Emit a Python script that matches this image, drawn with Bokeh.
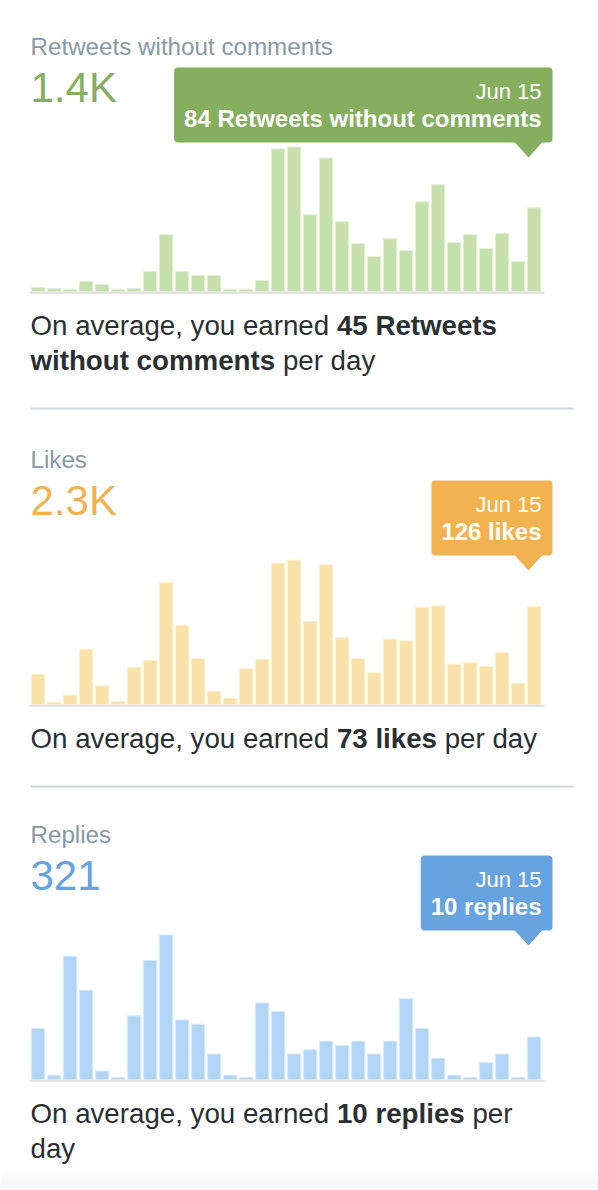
import numpy as np
from bokeh.plotting import figure
from bokeh.models import Range1d
from bokeh.core.properties import value
from bokeh.embed import file_html
from bokeh.resources import INLINE

# ---------------- data ----------------
dates = [f"May {d}" for d in range(15, 32)] + [f"Jun {d}" for d in range(1, 16)]
retweets = [4, 3, 2, 10, 7, 2, 3, 20, 57, 20, 16, 16, 2, 2, 11, 143, 145, 77, 134, 70,
            48, 35, 53, 41, 90, 107, 49, 57, 43, 58, 30, 84]
likes = [39, 3, 12, 71, 24, 4, 48, 57, 157, 102, 59, 17, 8, 46, 58, 182, 186, 107, 180, 86,
         59, 41, 84, 82, 125, 127, 52, 54, 49, 67, 27, 126]
replies = [12, 1, 29, 21, 2, 0, 15, 28, 34, 14, 13, 6, 1, 0, 18, 16, 6, 7, 9, 8,
           9, 6, 9, 19, 12, 5, 1, 0, 4, 6, 0, 10]

metric_titles = ["Retweets without comments", "Likes", "Replies"]
metric_totals = ["1.4K", "2.3K", "321"]
tooltip_dates = ["Jun 15", "Jun 15", "Jun 15"]
tooltip_values = ["84 Retweets without comments", "126 likes", "10 replies"]
summary_lines = [
    [[("On average, you earned ", False), ("45 Retweets", True)],
     [("without comments", True), (" per day", False)]],
    [[("On average, you earned ", False), ("73 likes", True), (" per day", False)]],
    [[("On average, you earned ", False), ("10 replies", True), (" per", False)],
     [("day", False)]],
]
series = [retweets, likes, replies]

# ---------------- styling ----------------
accent = ["#85ae5f", "#f2b250", "#66a3e0"]
bar_fill = ["#c5dfad", "#f9e2a9", "#b2d5f5"]
bar_edge = ["#e2efd6", "#fcf0d3", "#d8eafa"]
FONT = "Liberation Sans"
GRAY = "#8899a6"
DARK = "#292f33"

# Arial / Liberation Sans advance widths (per 1000 em)
REG = {' ': 278, ',': 278, '.': 278, 'a': 556, 'b': 556, 'c': 500, 'd': 556, 'e': 556,
       'f': 278, 'g': 556, 'h': 556, 'i': 222, 'k': 500, 'l': 222, 'm': 833, 'n': 556,
       'o': 556, 'p': 556, 'r': 333, 's': 500, 't': 278, 'u': 556, 'v': 500, 'w': 722,
       'y': 500, 'O': 778, 'R': 722, 'J': 500, 'K': 667, 'L': 556}
BOLD = {' ': 278, 'a': 556, 'c': 556, 'd': 611, 'e': 556, 'h': 611, 'i': 278, 'k': 556,
        'l': 278, 'm': 889, 'n': 611, 'o': 611, 'p': 611, 'r': 389, 's': 556, 't': 333,
        'u': 611, 'w': 778, 'y': 556, 'R': 722}


def text_width(s, bold, size):
    table = BOLD if bold else REG
    return sum(table.get(ch, 556) for ch in s) * size / 1000.0


# ---------------- layout (page pixel coordinates) ----------------
W, H = 598, 1190
M0 = 0
LEFT = 30
heading_y = [55, 468, 843]
X0 = 37.65      # centre of first bar
PITCH = 16.0    # bar pitch in px
HPX = 144.5     # height of tallest bar in px
BAR_OFF = 236   # bar baseline below heading baseline
SZ_HEAD, SZ_NUM, SZ_SUM, SZ_DATE, SZ_TIP = 24.2, 42, 27.7, 22, 24
BASE_SHIFT = 0.355  # renderer places the given y at about this fraction of the size above the baseline

p = figure(width=W, height=H, x_range=Range1d(M0, M0 + W), y_range=Range1d(M0 + H, M0),
           output_backend="svg", toolbar_location=None, min_border=0,
           x_axis_location=None, y_axis_location=None)
p.xgrid.visible = False
p.ygrid.visible = False
p.outline_line_color = None
p.background_fill_color = "white"
p.border_fill_color = "white"

p.extra_x_ranges = {"bars": Range1d((M0 - X0) / PITCH, (M0 + W - X0) / PITCH)}

idx = np.arange(len(dates))


def put_text(x, y, s, size, color, bold=False, align="left"):
    p.text(x=[x], y=[y - BASE_SHIFT * size], text=[s], text_font=value(FONT),
           text_font_size=value(f"{size}px"),
           text_color=color, text_align=align, text_baseline="alphabetic",
           text_font_style="bold" if bold else "normal")


# faint shadow at the bottom of the page
for i in range(14):
    p.quad(left=[0], right=[W], top=[1162 + i * 2], bottom=[1164 + i * 2],
           fill_color="#8a8a8a", fill_alpha=0.004 * (i + 1), line_color=None)

for k, vals in enumerate(series):
    h = heading_y[k]
    base = h + BAR_OFF
    vals = np.array(vals, dtype=float)
    vmax = vals.max()
    rname = f"v{k}"
    p.extra_y_ranges[rname] = Range1d((base - (M0 + H)) * vmax / HPX, (base - M0) * vmax / HPX)
    # minimum visible bar height of 2 px for empty days
    display = np.maximum(vals, 2.0 * vmax / HPX)

    # header
    put_text(LEFT, h, metric_titles[k], SZ_HEAD, GRAY)
    put_text(LEFT, h + 47, metric_totals[k], SZ_NUM, accent[k])

    # axis line
    p.line(x=[LEFT - 1, 544], y=[base + 1.2, base + 1.2], line_color="#dedede", line_width=2)

    # bars
    p.vbar(x=idx, bottom=0, top=display, width=0.82, x_range_name="bars", y_range_name=rname,
           fill_color=bar_fill[k], line_color=bar_edge[k], line_width=1)

    # tooltip
    right = 552
    tw = text_width(tooltip_values[k], True, SZ_TIP)
    left = right - 11 - tw - 10
    top, bottom = h + 12, h + 87
    p.quad(left=[left], right=[right], top=[top], bottom=[bottom], fill_color=accent[k],
           line_color=None, border_radius=4)
    p.patch(x=[514, 542, 528], y=[bottom - 0.5, bottom - 0.5, bottom + 15], fill_color=accent[k],
            line_color=None)
    put_text(right - 11, h + 44, tooltip_dates[k], SZ_DATE, "white", align="right")
    put_text(right - 11, h + 72, tooltip_values[k], SZ_TIP, "white", bold=True, align="right")

    # summary text (leading spaces are advanced explicitly, SVG would collapse them)
    y = h + 280
    for line in summary_lines[k]:
        x = LEFT
        for seg, bold in line:
            lead = seg[:len(seg) - len(seg.lstrip())]
            x += text_width(lead, bold, SZ_SUM)
            put_text(x, y, seg.strip(), SZ_SUM, DARK, bold=bold)
            x += text_width(seg.lstrip(), bold, SZ_SUM)
        y += 35
    if k < 2:
        sep_y = y - 35 + 38
        p.line(x=[LEFT, 573], y=[sep_y, sep_y], line_color="#cfd7dd", line_width=2)

open("out.html", "w").write(file_html(p, INLINE))
